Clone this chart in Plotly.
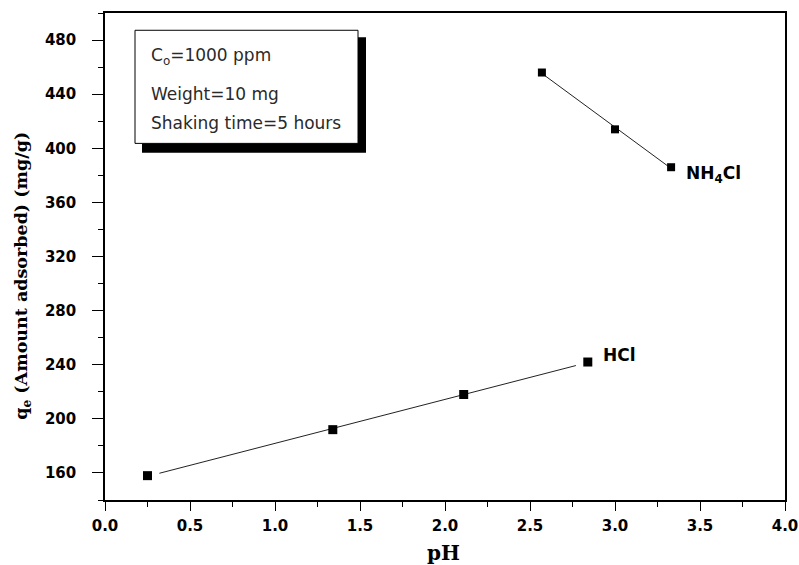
import numpy as np
import plotly.graph_objects as go

# Adsorption capacity versus pH for two eluting media
ph_hcl = [0.25, 1.34, 2.11, 2.84]
q_hcl = [158, 192, 218, 242]

ph_nh4cl = [2.57, 3.00, 3.33]
q_nh4cl = [456, 414, 386]

x_ticks = [0.0, 0.5, 1.0, 1.5, 2.0, 2.5, 3.0, 3.5, 4.0]
x_tick_text = ["0.0", "0.5", "1.0", "1.5", "2.0", "2.5", "3.0", "3.5", "4.0"]
y_ticks = [160, 200, 240, 280, 320, 360, 400, 440, 480]
y_tick_text = ["160", "200", "240", "280", "320", "360", "400", "440", "480"]

conditions = ["C<sub>o</sub>=1000 ppm", "Weight=10 mg", "Shaking time=5 hours"]

# plot-area geometry in pixels (used only for layout placement)
W, H = 799, 565
L, R, T, B = 105, 785, 12.7, 500.5


def px(xp):
    return (xp - L) / (R - L)


def py(yp):
    return 1 - (yp - T) / (B - T)


def fit_line(x, y, pad):
    k, b = np.polyfit(x, y, 1)
    xs = np.array([min(x) + pad, max(x) - pad])
    return xs, k * xs + b


fig = go.Figure()

for xs, ys, pad, msize in [(ph_hcl, q_hcl, 0.07, 9), (ph_nh4cl, q_nh4cl, 0.0, 8)]:
    fx, fy = fit_line(xs, ys, pad)
    fig.add_trace(go.Scatter(x=fx, y=fy, mode="lines",
                             line=dict(color="#222222", width=1),
                             showlegend=False, hoverinfo="skip"))
    fig.add_trace(go.Scatter(x=xs, y=ys, mode="markers",
                             marker=dict(symbol="square", size=msize, color="black"),
                             showlegend=False))

tick_font = dict(family="DejaVu Sans", size=15, color="black", weight="bold")

fig.update_xaxes(range=[0, 4], tickvals=x_ticks, ticktext=x_tick_text,
                 ticks="outside", ticklen=9, tickwidth=1, tickcolor="black",
                 minor=dict(dtick=0.25, ticks="outside", ticklen=5, tickcolor="black"),
                 showline=True, linecolor="black", linewidth=1.5, mirror=True,
                 showgrid=False, zeroline=False, tickfont=tick_font,
                 ticklabelstandoff=2, automargin=False)
fig.update_yaxes(range=[140, 500], tickvals=y_ticks, ticktext=y_tick_text,
                 ticks="outside", ticklen=11, tickwidth=1, tickcolor="black",
                 minor=dict(dtick=20, ticks="outside", ticklen=5, tickcolor="black"),
                 showline=True, linecolor="black", linewidth=1.5, mirror=True,
                 showgrid=False, zeroline=False, tickfont=tick_font,
                 ticklabelstandoff=13, automargin=False)

shapes = [
    # shadow of the conditions box
    dict(type="rect", xref="paper", yref="paper",
         x0=px(142), x1=px(366), y0=py(152.7), y1=py(37),
         fillcolor="black", line=dict(width=0), layer="above"),
    dict(type="rect", xref="paper", yref="paper",
         x0=px(135), x1=px(358), y0=py(143.3), y1=py(30),
         fillcolor="white", line=dict(color="black", width=1), layer="above"),
]

annotations = []
for text, yc in zip(conditions, [56, 94, 123]):
    annotations.append(dict(text=text, xref="paper", yref="paper",
                            x=px(149), y=py(yc), xanchor="left", yanchor="middle",
                            showarrow=False,
                            font=dict(family="DejaVu Sans", size=17, color="#2a2a2a")))

label_font = dict(family="DejaVu Sans", size=17, color="black", weight="bold")
annotations.append(dict(text="HCl", xref="paper", yref="paper", x=px(601), y=py(355),
                        xanchor="left", yanchor="middle", showarrow=False, font=label_font))
annotations.append(dict(text="NH<sub>4</sub>Cl", xref="paper", yref="paper", x=px(684), y=py(174),
                        xanchor="left", yanchor="middle", showarrow=False, font=label_font))

# axis titles
annotations.append(dict(text="pH", xref="paper", yref="paper", x=px(443), y=py(554),
                        xanchor="center", yanchor="middle", showarrow=False,
                        font=dict(family="DejaVu Serif", size=20, color="black", weight="bold")))
annotations.append(dict(text="q<sub>e</sub> (Amount adsorbed) (mg/g)", xref="paper", yref="paper",
                        x=px(23), y=py(276), xanchor="center", yanchor="middle",
                        textangle=-90, showarrow=False,
                        font=dict(family="DejaVu Serif", size=17.5, color="black", weight="bold")))

fig.update_layout(width=W, height=H,
                  margin=dict(l=L, r=W - R, t=T, b=H - B),
                  paper_bgcolor="white", plot_bgcolor="white",
                  shapes=shapes, annotations=annotations, showlegend=False)

fig.write_html("out.html")
